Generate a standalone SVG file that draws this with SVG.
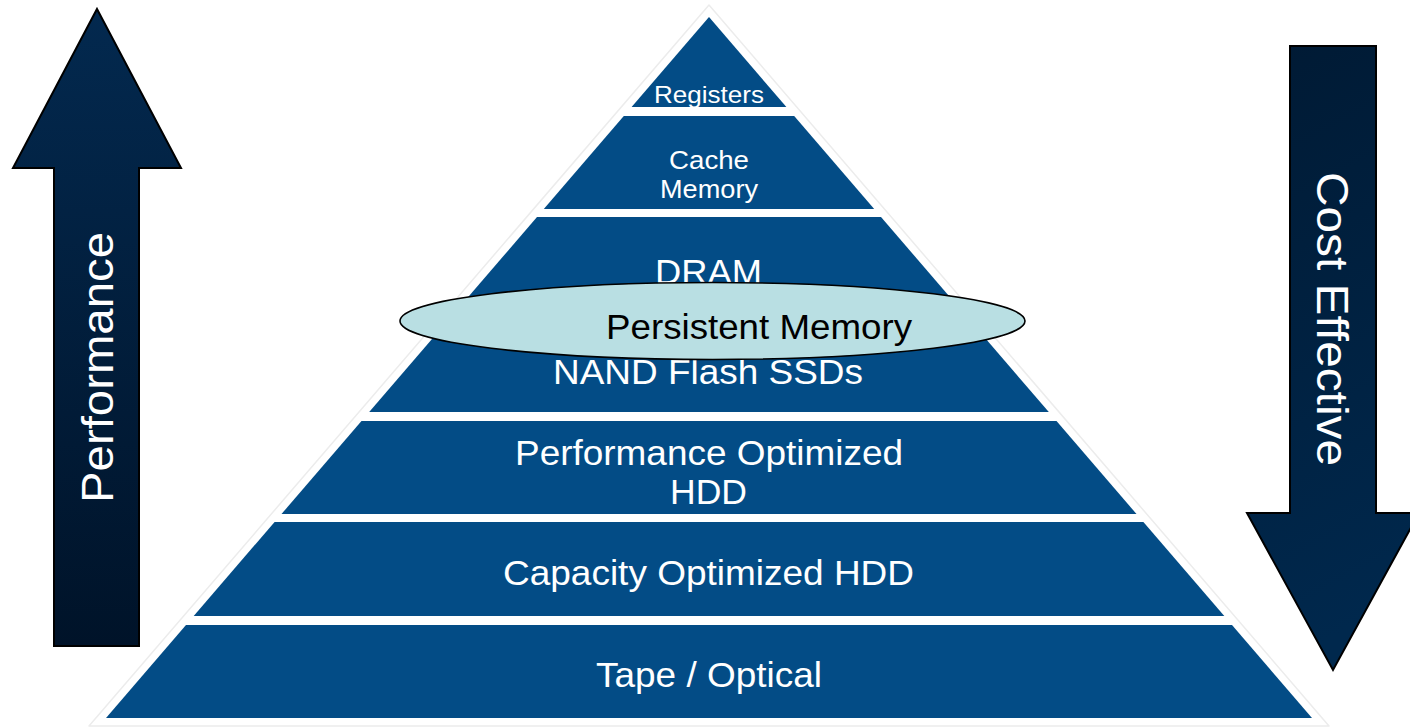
<svg xmlns="http://www.w3.org/2000/svg" width="1410" height="727" viewBox="0 0 1410 727">
  <defs>
    <linearGradient id="gUp" x1="0" y1="0" x2="0" y2="1">
      <stop offset="0" stop-color="#03294f"/>
      <stop offset="1" stop-color="#001329"/>
    </linearGradient>
    <linearGradient id="gDown" x1="0" y1="0" x2="0.15" y2="1">
      <stop offset="0" stop-color="#001a34"/>
      <stop offset="1" stop-color="#00284d"/>
    </linearGradient>
    <style>
      .layer { fill: #034c86; }
      .lbl { font-family: "Liberation Sans", Arial, sans-serif; fill: #ffffff; text-anchor: middle; }
      .arrow { stroke: #000000; stroke-width: 2; stroke-linejoin: miter; }
      .big { font-family: "Liberation Sans", Arial, sans-serif; fill: #ffffff; text-anchor: middle; font-size: 45px; }
    </style>
  </defs>
  <rect width="1410" height="727" fill="#ffffff"/>

  <g id="performance-arrow">
    <polygon class="arrow" fill="url(#gUp)" points="97,9 181,168 139,168 139,646 54,646 54,168 13,168"/>
    <text class="big" transform="translate(113,367.5) rotate(-90)" textLength="271" lengthAdjust="spacingAndGlyphs">Performance</text>
  </g>

  <g id="cost-arrow">
    <polygon class="arrow" fill="url(#gDown)" points="1290,46 1376,46 1376,513 1419,513 1333,670 1247,513 1290,513"/>
    <text class="big" transform="translate(1317,319) rotate(90)" textLength="294" lengthAdjust="spacingAndGlyphs">Cost Effective</text>
  </g>

  <g id="pyramid-backing">
    <polygon points="709,5 1329,726 89,726" fill="#ffffff" stroke="#ececec" stroke-width="1.5" stroke-linejoin="round"/>
  </g>

  <g id="registers">
    <polygon class="layer" points="709,17 786.4,107 631.6,107"/>
    <text class="lbl" x="709" y="103" font-size="24.5" textLength="110" lengthAdjust="spacingAndGlyphs">Registers</text>
  </g>

  <g id="cache-memory">
    <polygon class="layer" points="623.8,116 794.2,116 874.2,209 543.8,209"/>
    <text class="lbl" x="709" y="168.5" font-size="26" textLength="80" lengthAdjust="spacingAndGlyphs">Cache</text>
    <text class="lbl" x="709" y="197.5" font-size="26" textLength="98" lengthAdjust="spacingAndGlyphs">Memory</text>
  </g>

  <g id="dram-nand">
    <polygon class="layer" points="537,217 881,217 1048.8,412 369.2,412"/>
    <text class="lbl" x="708.5" y="284" font-size="35" textLength="107" lengthAdjust="spacingAndGlyphs">DRAM</text>
    <text class="lbl" x="708" y="383.5" font-size="35" textLength="310" lengthAdjust="spacingAndGlyphs">NAND Flash SSDs</text>
  </g>

  <g id="performance-hdd">
    <polygon class="layer" points="361.5,421 1056.5,421 1136.5,514 281.5,514"/>
    <text class="lbl" x="709" y="464.5" font-size="35" textLength="388" lengthAdjust="spacingAndGlyphs">Performance Optimized</text>
    <text class="lbl" x="708.5" y="504" font-size="35" textLength="77" lengthAdjust="spacingAndGlyphs">HDD</text>
  </g>

  <g id="capacity-hdd">
    <polygon class="layer" points="274.6,522 1143.4,522 1224.3,616 193.7,616"/>
    <text class="lbl" x="708.5" y="585" font-size="35" textLength="411" lengthAdjust="spacingAndGlyphs">Capacity Optimized HDD</text>
  </g>

  <g id="tape-optical">
    <polygon class="layer" points="186,625 1232,625 1312,718 106,718"/>
    <text class="lbl" x="709" y="686.5" font-size="35" textLength="226" lengthAdjust="spacingAndGlyphs">Tape / Optical</text>
  </g>

  <g id="persistent-memory">
    <ellipse cx="712.5" cy="321" rx="312.5" ry="38.5" fill="#b9dfe3" stroke="#000000" stroke-width="1.6"/>
    <text x="759" y="339" font-family="'Liberation Sans', Arial, sans-serif" font-size="35" fill="#000000" text-anchor="middle" textLength="306" lengthAdjust="spacingAndGlyphs">Persistent Memory</text>
  </g>

  <g id="connectors"/>
</svg>
